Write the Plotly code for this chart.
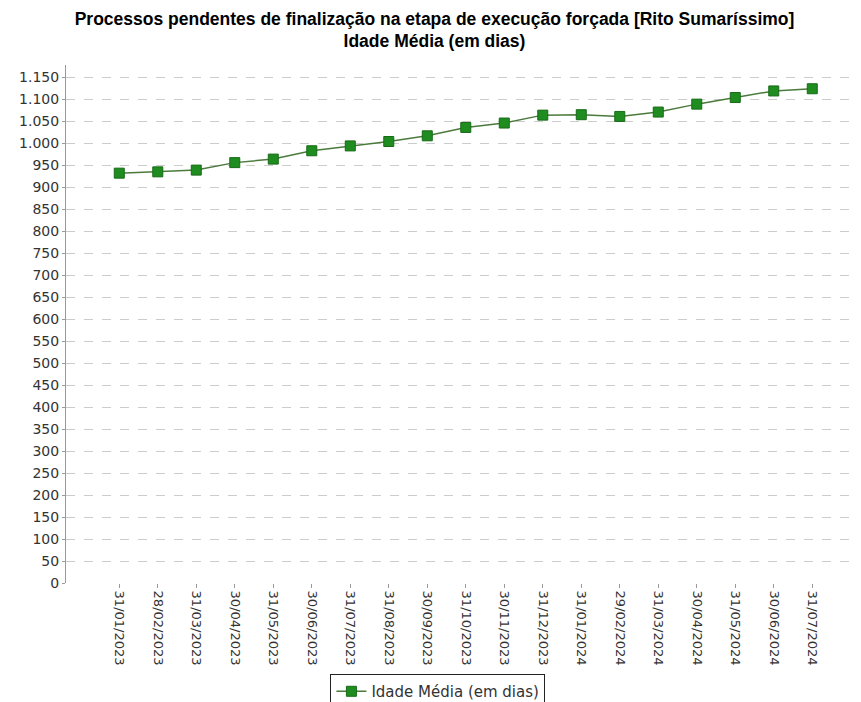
import plotly.graph_objects as go

dates = ["31/01/2023", "28/02/2023", "31/03/2023", "30/04/2023", "31/05/2023", "30/06/2023",
         "31/07/2023", "31/08/2023", "30/09/2023", "31/10/2023", "30/11/2023", "31/12/2023",
         "31/01/2024", "29/02/2024", "31/03/2024", "30/04/2024", "31/05/2024", "30/06/2024",
         "31/07/2024"]
idade_media = [932, 935, 939, 956, 964, 983, 994, 1004, 1017, 1036, 1046, 1064,
               1065, 1061, 1071, 1089, 1104, 1119, 1124]

fig = go.Figure()
fig.add_trace(go.Scatter(
    x=dates, y=idade_media, mode="lines+markers", name="Idade Média (em dias)",
    line=dict(color="#4b7a3c", width=1.5),
    marker=dict(symbol="square", size=10, color="#1e8c1e", line=dict(color="#176b17", width=1)),
))

# the page body adds an 8 px margin, so the figure is 8 px smaller than the window
fig.update_layout(
    width=853, height=694,
    paper_bgcolor="white", plot_bgcolor="white",
    separators=",.",
    margin=dict(l=58, r=1, t=57, b=119, pad=0),
    title=dict(
        text="<b>Processos pendentes de finalização na etapa de execução forçada [Rito Sumaríssimo]<br>Idade Média (em dias)</b>",
        x=0.5, xref="container", xanchor="center", y=0.976, yref="container", yanchor="top",
        pad=dict(t=0, b=0, l=0, r=0),
        font=dict(family="Liberation Sans, Arial", size=17.5, color="black"),
    ),
    font=dict(family="DejaVu Sans", size=13, color="#333333"),
    showlegend=True,
    legend=dict(
        orientation="h", xref="container", yref="container",
        x=0.504, xanchor="center", y=0.0403, yanchor="top",
        bordercolor="#222222", borderwidth=1, bgcolor="white",
        font=dict(family="DejaVu Sans", size=15, color="#333333"),
    ),
    xaxis=dict(
        type="category", tickangle=90, range=[-1.384, 19.24],
        automargin=False,
        showgrid=False, showline=False, zeroline=False,
        ticks="outside", ticklen=4, tickcolor="#999999",
        tickfont=dict(family="DejaVu Sans", size=13, color="#333333"),
    ),
    yaxis=dict(
        range=[0, 1178], dtick=50, tick0=0,
        automargin=False,
        separatethousands=True,
        showgrid=True, gridcolor="#cccccc", griddash="dash", gridwidth=1,
        zeroline=False,
        showline=True, linecolor="#999999", linewidth=1,
        ticks="outside", ticklen=3, tickcolor="#999999",
        tickfont=dict(family="DejaVu Sans", size=14, color="#333333"),
    ),
)

fig.write_html("out.html")
